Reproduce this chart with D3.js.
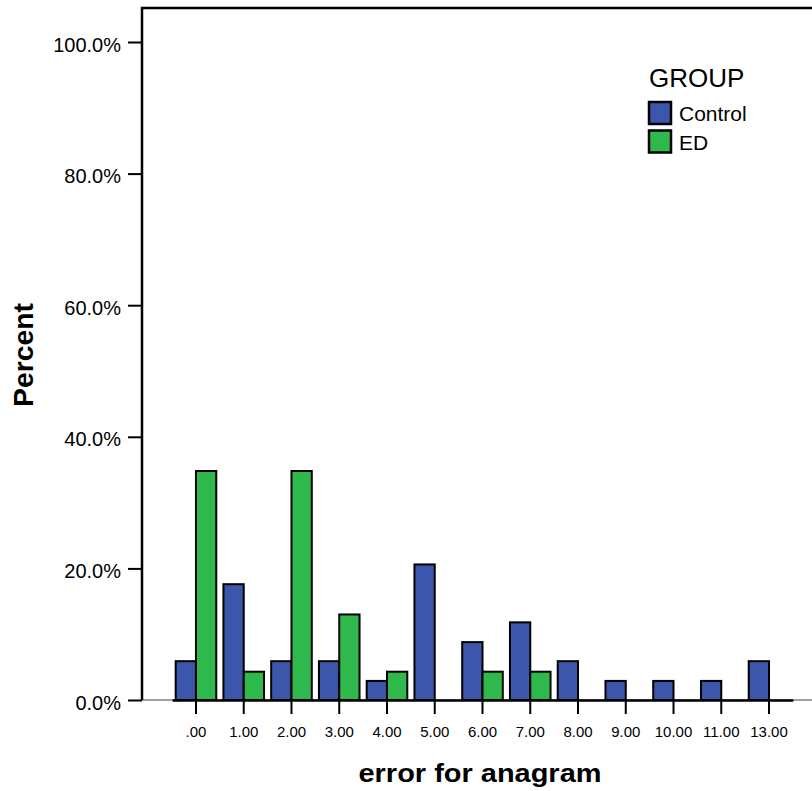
<!DOCTYPE html>
<html>
<head>
<meta charset="utf-8">
<script src="https://cdn.jsdelivr.net/npm/d3@7"></script>
<style>
  html, body { margin: 0; padding: 0; background: #fff; }
  svg { display: block; font-family: "Liberation Sans", Arial, sans-serif; }
</style>
</head>
<body>
<svg id="chart" width="812" height="791"></svg>
<script>
// Categories of "error for anagram" and the percent of each group per category
const categories = [".00", "1.00", "2.00", "3.00", "4.00", "5.00", "6.00", "7.00", "8.00", "9.00", "10.00", "11.00", "13.00"];
const groups = ["Control", "ED"];
const controlPct = [5.9, 17.6, 5.9, 5.9, 2.9, 20.6, 8.8, 11.8, 5.9, 2.9, 2.9, 2.9, 5.9];
const edPct      = [34.8, 4.3, 34.8, 13.0, 4.3, 0, 4.3, 4.3, 0, 0, 0, 0, 0];
const yTicks = [0, 20, 40, 60, 80, 100];
const groupColors = ["#3c56ab", "#2fb84b"];

const svg = d3.select("#chart");

const plot = { left: 142, top: 8, right: 812, bottom: 700 };

const x = d3.scaleBand()
  .domain(categories)
  .range([172.1, 792.9])
  .paddingInner(0.15)
  .paddingOuter(0.075);

const xInner = d3.scaleBand()
  .domain(groups)
  .range([0, x.bandwidth()]);

const y = d3.scaleLinear()
  .domain([0, 100])
  .range([700, 42]);

const color = d3.scaleOrdinal().domain(groups).range(groupColors);

const rows = categories.map((c, i) => ({
  category: c,
  values: [
    { group: "Control", value: controlPct[i] },
    { group: "ED", value: edPct[i] }
  ]
}));

// Thin baseline across the whole plot width
svg.append("line")
  .attr("x1", plot.left).attr("x2", plot.right)
  .attr("y1", y(0)).attr("y2", y(0))
  .attr("stroke", "#444").attr("stroke-width", 1);

// Bars
const g = svg.append("g");
g.selectAll("g.cat")
  .data(rows)
  .join("g")
  .attr("class", "cat")
  .attr("transform", d => `translate(${x(d.category)},0)`)
  .selectAll("rect")
  .data(d => d.values)
  .join("rect")
  .attr("x", d => xInner(d.group))
  .attr("width", xInner.bandwidth())
  .attr("y", d => y(d.value))
  .attr("height", d => y(0) - y(d.value))
  .attr("fill", d => color(d.group))
  .attr("stroke", "#000")
  .attr("stroke-width", 2);

// Category axis
const xAxis = svg.append("g")
  .attr("transform", `translate(0,${y(0)})`)
  .call(d3.axisBottom(x).tickSize(14).tickPadding(12).tickSizeOuter(0));
xAxis.select(".domain").attr("stroke", "#000").attr("stroke-width", 2.5);
xAxis.selectAll(".tick line").attr("stroke", "#000").attr("stroke-width", 2);
xAxis.selectAll(".tick text")
  .attr("fill", "#000")
  .style("font-size", "15px")
  .style("font-family", "'Liberation Sans', Arial, sans-serif");

// Percent axis
const yAxis = svg.append("g")
  .attr("transform", `translate(${plot.left},0)`)
  .call(d3.axisLeft(y).tickValues(yTicks).tickFormat(d => d.toFixed(1) + "%").tickSize(14).tickPadding(7).tickSizeOuter(0));
yAxis.select(".domain").remove();
yAxis.selectAll(".tick line").attr("stroke", "#000").attr("stroke-width", 2);
yAxis.selectAll(".tick text")
  .attr("fill", "#000")
  .attr("dy", "0.45em")
  .style("font-size", "20px")
  .style("font-family", "'Liberation Sans', Arial, sans-serif");

// Plot frame (left and top edges)
svg.append("path")
  .attr("d", `M${plot.left},${plot.bottom}V${plot.top}H${plot.right}`)
  .attr("fill", "none")
  .attr("stroke", "#000")
  .attr("stroke-width", 2.5);

// Axis titles
svg.append("text")
  .attr("x", 480).attr("y", 782)
  .attr("text-anchor", "middle")
  .attr("textLength", 243)
  .attr("lengthAdjust", "spacingAndGlyphs")
  .style("font-size", "26px").style("font-weight", "bold")
  .text("error for anagram");

svg.append("text")
  .attr("transform", "translate(33,355) rotate(-90)")
  .attr("text-anchor", "middle")
  .attr("textLength", 104)
  .attr("lengthAdjust", "spacingAndGlyphs")
  .style("font-size", "27px").style("font-weight", "bold")
  .text("Percent");

// Legend
const legend = svg.append("g").attr("transform", "translate(649,0)");
legend.append("text")
  .attr("x", 0).attr("y", 87)
  .style("font-size", "26px")
  .text("GROUP");
const items = legend.selectAll("g.item")
  .data(groups)
  .join("g")
  .attr("class", "item")
  .attr("transform", (d, i) => `translate(0,${102 + i * 28.5})`);
items.append("rect")
  .attr("x", 0).attr("y", 0)
  .attr("width", 22).attr("height", 22)
  .attr("fill", d => color(d))
  .attr("stroke", "#000").attr("stroke-width", 2.5);
items.append("text")
  .attr("x", 30).attr("y", 19)
  .style("font-size", "21px")
  .text(d => d);
</script>
</body>
</html>
